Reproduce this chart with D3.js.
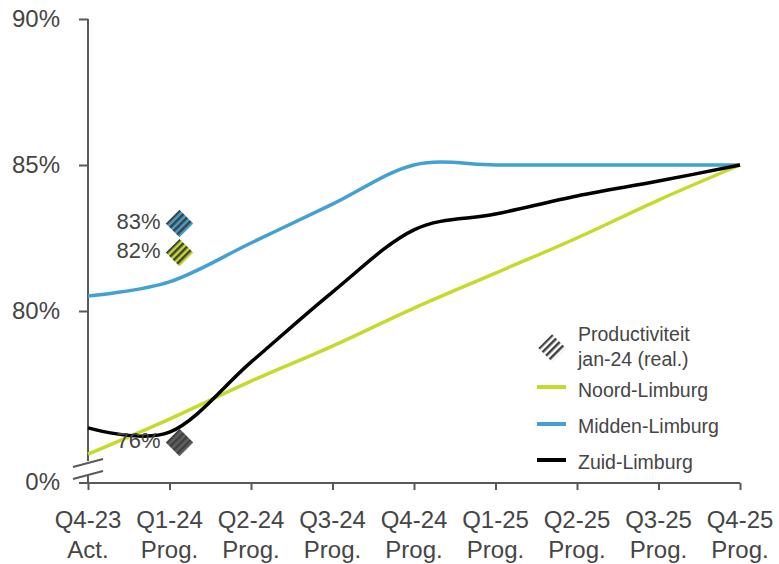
<!DOCTYPE html>
<html>
<head>
<meta charset="utf-8">
<script src="https://cdn.jsdelivr.net/npm/d3@7/dist/d3.min.js"></script>
<style>
  html, body { margin: 0; padding: 0; background: #ffffff; }
  svg { display: block; font-family: "Liberation Sans", Arial, sans-serif; }
</style>
</head>
<body>
<svg id="chart" width="779" height="564"></svg>
<script>
// Quarters on the x axis (two-line labels)
const quarters = ["Q4-23", "Q1-24", "Q2-24", "Q3-24", "Q4-24", "Q1-25", "Q2-25", "Q3-25", "Q4-25"];
const periodTypes = ["Act.", "Prog.", "Prog.", "Prog.", "Prog.", "Prog.", "Prog.", "Prog.", "Prog."];

// Productivity per region (fraction)
const noordLimburg = [0.751, 0.763, 0.776, 0.788, 0.801, 0.813, 0.825, 0.838, 0.850];
const middenLimburg = [0.8051, 0.8100, 0.8233, 0.8366, 0.8500, 0.8500, 0.8500, 0.8500, 0.8500];
const zuidLimburg = [0.7600, 0.7585, 0.7825, 0.8065, 0.8278, 0.8332, 0.8394, 0.8445, 0.8500];

// Realised productivity jan-24
const realisedRegions = ["Midden-Limburg", "Noord-Limburg", "Zuid-Limburg"];
const realisedValues = [0.83, 0.82, 0.755];

// Y axis ticks; the bottom of the broken axis is labelled separately
const yTickValues = [0.80, 0.85, 0.90];
const yBreakLabel = "0%";

const legendTitle = ["Productiviteit", "jan-24 (real.)"];

const colors = {
  "Noord-Limburg": "#c6da2c",
  "Midden-Limburg": "#42a1d1",
  "Zuid-Limburg": "#000000"
};
const textColor = "#454545";
const axisColor = "#595959";

const series = [
  { name: "Noord-Limburg", values: noordLimburg },
  { name: "Midden-Limburg", values: middenLimburg },
  { name: "Zuid-Limburg", values: zuidLimburg }
];

const svg = d3.select("#chart");

const x = d3.scalePoint().domain(quarters).range([88, 740]);
const y = d3.scaleLinear().domain([0.7411, 0.90]).range([483, 19]);

// Patterns for the striped diamond markers
const defs = svg.append("defs");
function stripePattern(id, bg, fg) {
  const p = defs.append("pattern")
    .attr("id", id)
    .attr("patternUnits", "userSpaceOnUse")
    .attr("width", 5).attr("height", 5)
    .attr("patternTransform", "rotate(-45)");
  p.append("rect").attr("width", 5).attr("height", 5).attr("fill", bg);
  p.append("rect").attr("width", 5).attr("height", 2.5).attr("fill", fg);
}
stripePattern("stripe-Midden-Limburg", colors["Midden-Limburg"], "#404040");
stripePattern("stripe-Noord-Limburg", colors["Noord-Limburg"], "#404040");
stripePattern("stripe-Zuid-Limburg", "#5f5f5f", "#404040");
stripePattern("stripe-legend", "#ffffff", "#404040");

// Y axis
const yAxis = d3.axisLeft(y)
  .tickValues(yTickValues)
  .tickFormat(d3.format(".0%"))
  .tickSize(9)
  .tickPadding(19);

const gy = svg.append("g").attr("transform", "translate(88,0)").call(yAxis);
gy.select(".domain").remove();
gy.selectAll(".tick line").attr("stroke", axisColor).attr("stroke-width", 2);
gy.selectAll(".tick text")
  .attr("fill", textColor)
  .style("font-size", "24px")
  .style("font-family", "'Liberation Sans', Arial, sans-serif");

// Axis line with a break near the bottom
const breakTop = 461, breakBottom = 476;
svg.append("line")
  .attr("x1", 88).attr("x2", 88)
  .attr("y1", y(0.90)).attr("y2", breakTop)
  .attr("stroke", axisColor).attr("stroke-width", 2);
svg.append("line")
  .attr("x1", 88).attr("x2", 88)
  .attr("y1", breakBottom).attr("y2", y.range()[0])
  .attr("stroke", axisColor).attr("stroke-width", 2);
[breakTop + 2, breakBottom - 1].forEach(yc => {
  svg.append("line")
    .attr("x1", 73).attr("y1", yc + 4)
    .attr("x2", 103).attr("y2", yc - 4)
    .attr("stroke", axisColor).attr("stroke-width", 2);
});
svg.append("text")
  .attr("x", 60).attr("y", y.range()[0] + 1)
  .attr("text-anchor", "end")
  .attr("dominant-baseline", "middle")
  .attr("fill", textColor)
  .style("font-size", "24px")
  .text(yBreakLabel);

// X axis
const xAxis = d3.axisBottom(x).tickSize(7).tickFormat("");
const gx = svg.append("g").attr("transform", `translate(0,${y.range()[0]})`).call(xAxis);
gx.select(".domain").remove();
gx.selectAll(".tick line").attr("stroke", axisColor).attr("stroke-width", 2);
svg.append("line")
  .attr("x1", 79).attr("x2", x.range()[1])
  .attr("y1", y.range()[0]).attr("y2", y.range()[0])
  .attr("stroke", axisColor).attr("stroke-width", 2);

const xLabels = svg.append("g").selectAll("text")
  .data(quarters)
  .join("text")
  .attr("x", d => x(d))
  .attr("text-anchor", "middle")
  .attr("fill", textColor)
  .style("font-size", "24px");
xLabels.append("tspan").attr("x", d => x(d)).attr("y", 528).text(d => d);
xLabels.append("tspan").attr("x", d => x(d)).attr("y", 558).text((d, i) => periodTypes[i]);

// Lines
const line = d3.line()
  .x((d, i) => x(quarters[i]))
  .y(d => y(d))
  .curve(d3.curveCatmullRom.alpha(0));

svg.append("g").selectAll("path")
  .data(series)
  .join("path")
  .attr("d", d => line(d.values))
  .attr("fill", "none")
  .attr("stroke", d => colors[d.name])
  .attr("stroke-width", 3.5)
  .attr("stroke-linejoin", "round");

// Realised markers (diamonds) with value labels
const markerNudge = 10;
const diamond = d3.symbol().type(d3.symbolDiamond2).size(480);
const mx = x("Q1-24") + markerNudge;
const realised = realisedRegions.map((r, i) => ({ region: r, value: realisedValues[i] }));

svg.append("g").selectAll("path")
  .data(realised)
  .join("path")
  .attr("d", diamond)
  .attr("transform", d => `translate(${mx},${y(d.value)})`)
  .attr("fill", d => `url(#stripe-${d.region})`);

svg.append("g").selectAll("text")
  .data(realised)
  .join("text")
  .attr("x", mx - 19)
  .attr("y", d => y(d.value))
  .attr("text-anchor", "end")
  .attr("dominant-baseline", "middle")
  .attr("fill", textColor)
  .style("font-size", "22px")
  .text(d => Math.round(d.value * 100 + 1e-9) + "%");

// Legend
const legend = svg.append("g");
legend.append("path")
  .attr("d", diamond)
  .attr("transform", "translate(552,348)")
  .attr("fill", "url(#stripe-legend)");
legend.append("text")
  .attr("x", 578).attr("fill", textColor).style("font-size", "19.5px")
  .selectAll("tspan")
  .data(legendTitle)
  .join("tspan")
  .attr("x", 578)
  .attr("y", (d, i) => 341 + i * 25)
  .text(d => d);

const legendRows = [
  { name: "Noord-Limburg", yLine: 387, yText: 397 },
  { name: "Midden-Limburg", yLine: 424, yText: 433 },
  { name: "Zuid-Limburg", yLine: 460, yText: 469 }
];
legendRows.forEach(r => {
  legend.append("line")
    .attr("x1", 537).attr("x2", 566)
    .attr("y1", r.yLine).attr("y2", r.yLine)
    .attr("stroke", colors[r.name]).attr("stroke-width", 4);
  legend.append("text")
    .attr("x", 578).attr("y", r.yText)
    .attr("fill", textColor).style("font-size", "19.5px")
    .text(r.name);
});
</script>
</body>
</html>
